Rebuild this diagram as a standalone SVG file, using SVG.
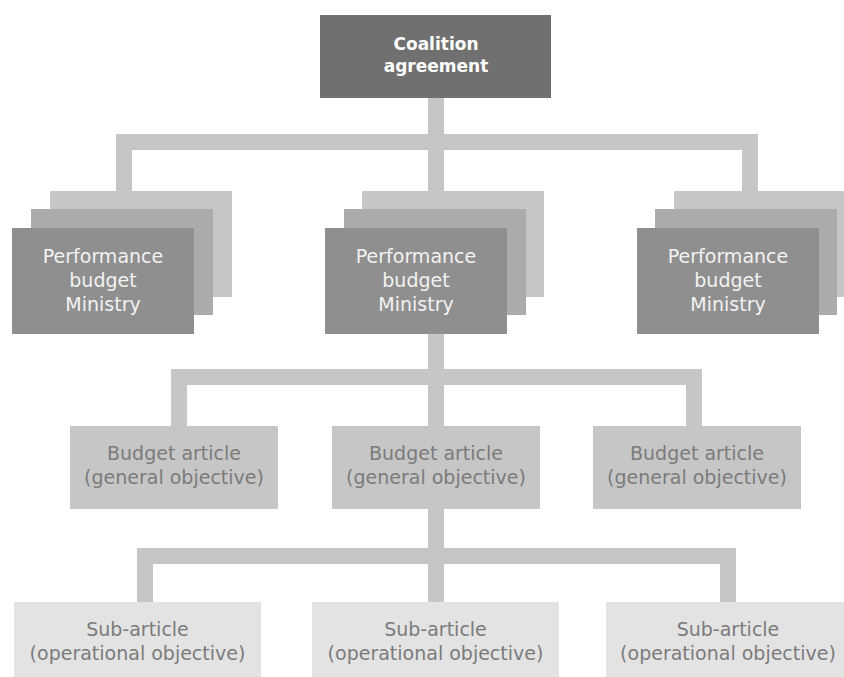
<svg xmlns="http://www.w3.org/2000/svg" width="844" height="677" viewBox="0 0 844 677">
<style>
.c{fill:#c6c6c6}
.t{font-family:"DejaVu Sans",sans-serif;font-size:19px;text-anchor:middle}
.top{fill:#707070}
.tt{font-family:"DejaVu Sans",sans-serif;font-size:17px;font-weight:bold;fill:#ffffff;text-anchor:middle}
.p3{fill:#c6c6c6}.p2{fill:#ababab}.p1{fill:#8f8f8f}
.pt{fill:#f2f2f2}
.b{fill:#c6c6c6}.bt{fill:#7b7b7b}
.s{fill:#e3e3e3}.st{fill:#7b7b7b}
</style>
<rect width="844" height="677" fill="#ffffff"/>
<g id="connectors">
<rect class="c" x="428" y="98" width="16" height="93"/>
<rect class="c" x="116" y="134" width="642" height="16"/>
<rect class="c" x="116" y="134" width="16" height="57"/>
<rect class="c" x="742" y="134" width="16" height="57"/>
<rect class="c" x="428" y="334" width="16" height="92"/>
<rect class="c" x="171" y="369" width="531" height="16"/>
<rect class="c" x="171" y="369" width="16" height="57"/>
<rect class="c" x="686" y="369" width="16" height="57"/>
<rect class="c" x="428" y="509" width="16" height="93"/>
<rect class="c" x="137" y="548" width="599" height="16"/>
<rect class="c" x="137" y="548" width="16" height="54"/>
<rect class="c" x="720" y="548" width="16" height="54"/>
</g>
<g id="coalition">
<rect class="top" x="320" y="15" width="231" height="83"/>
<text class="tt" x="436" y="50">Coalition</text>
<text class="tt" x="436" y="72">agreement</text>
</g>
<g id="ministry-left">
<rect class="p3" x="50" y="191" width="182" height="106"/>
<rect class="p2" x="31" y="209" width="182" height="106"/>
<rect class="p1" x="12" y="228" width="182" height="106"/>
<text class="t pt" x="103" y="263">Performance</text>
<text class="t pt" x="103" y="287">budget</text>
<text class="t pt" x="103" y="311">Ministry</text>
</g>
<g id="ministry-center">
<rect class="p3" x="362" y="191" width="182" height="106"/>
<rect class="p2" x="344" y="209" width="182" height="106"/>
<rect class="p1" x="325" y="228" width="182" height="106"/>
<text class="t pt" x="416" y="263">Performance</text>
<text class="t pt" x="416" y="287">budget</text>
<text class="t pt" x="416" y="311">Ministry</text>
</g>
<g id="ministry-right">
<rect class="p3" x="674" y="191" width="182" height="106"/>
<rect class="p2" x="655" y="209" width="182" height="106"/>
<rect class="p1" x="637" y="228" width="182" height="106"/>
<text class="t pt" x="728" y="263">Performance</text>
<text class="t pt" x="728" y="287">budget</text>
<text class="t pt" x="728" y="311">Ministry</text>
</g>
<g id="budget-left">
<rect class="b" x="70" y="426" width="208" height="83"/>
<text class="t bt" x="174" y="460">Budget article</text>
<text class="t bt" x="174" y="484">(general objective)</text>
</g>
<g id="budget-center">
<rect class="b" x="332" y="426" width="208" height="83"/>
<text class="t bt" x="436" y="460">Budget article</text>
<text class="t bt" x="436" y="484">(general objective)</text>
</g>
<g id="budget-right">
<rect class="b" x="593" y="426" width="208" height="83"/>
<text class="t bt" x="697" y="460">Budget article</text>
<text class="t bt" x="697" y="484">(general objective)</text>
</g>
<g id="sub-left">
<rect class="s" x="14" y="602" width="247" height="80"/>
<text class="t st" x="137.5" y="636">Sub-article</text>
<text class="t st" x="137.5" y="660">(operational objective)</text>
</g>
<g id="sub-center">
<rect class="s" x="312" y="602" width="247" height="80"/>
<text class="t st" x="435.5" y="636">Sub-article</text>
<text class="t st" x="435.5" y="660">(operational objective)</text>
</g>
<g id="sub-right">
<rect class="s" x="606" y="602" width="247" height="80"/>
<text class="t st" x="728" y="636">Sub-article</text>
<text class="t st" x="728" y="660">(operational objective)</text>
</g>
</svg>
